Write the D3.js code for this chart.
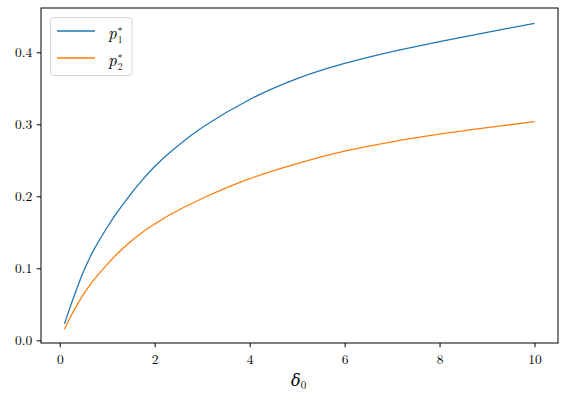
<!DOCTYPE html>
<html>
<head>
<meta charset="utf-8">
<script src="https://cdn.jsdelivr.net/npm/d3@7"></script>
<style>
    body { margin: 0; background: #fff; }
    svg { display: block; }
    text { font-family: "Latin Modern Roman", "CMU Serif", "DejaVu Serif", serif; fill: #000; }
</style>
</head>
<body>
<div id="svg"></div>
<script>
// DATA
const delta = [0.1, 0.25, 0.4, 0.5, 0.7, 1.0, 1.2, 1.5, 1.75, 2.0, 2.35, 3.0, 4.0, 5.0, 6.0, 7.0, 8.0, 9.0, 10.0]
const p1 = [0.0230, 0.052, 0.079, 0.0955, 0.1235, 0.157, 0.177, 0.2035, 0.2235, 0.2415, 0.2625, 0.2955, 0.3345, 0.3635, 0.3845, 0.401, 0.4147, 0.4278, 0.440]
const p2 = [0.0155, 0.0355, 0.053, 0.0637, 0.0825, 0.1055, 0.1195, 0.1375, 0.1505, 0.1615, 0.1755, 0.197, 0.2245, 0.2455, 0.2628, 0.2757, 0.2863, 0.2953, 0.3036]
const xTicks = [0, 2, 4, 6, 8, 10]
const yTicks = [0.0, 0.1, 0.2, 0.3, 0.4]
const seriesNames = ["1", "2"]
const colors = ["#1f77b4", "#ff7f0e"]

let width = 561,
    height = 393,
    margin = {top: 8, right: 3, bottom: 50, left: 41},
    svg = d3.select("#svg").append("svg")
        .attr("width", width)
        .attr("height", height)

//SCALES
let x = d3.scaleLinear().domain([-0.395, 10.495]).range([margin.left, width - margin.right])
let y = d3.scaleLinear().domain([-0.0037, 0.4615]).range([height - margin.bottom, margin.top])

//LINES
let line = d3.line()
    .x(d => x(d[0]))
    .y(d => y(d[1]))
    .curve(d3.curveCatmullRom.alpha(0.5))

let series = [p1, p2].map(vals => delta.map((d, i) => [d, vals[i]]))

svg.append("g")
    .selectAll("path")
    .data(series)
    .enter().append("path")
    .attr("d", line)
    .attr("fill", "none")
    .attr("stroke", (d, i) => colors[i])
    .attr("stroke-width", 1.3)

//AXES
svg.append("g")
    .attr("transform", "translate(0," + (height - margin.bottom) + ")")
    .call(d3.axisBottom(x).tickValues(xTicks).tickFormat(d3.format("d")).tickSize(4.3).tickPadding(7))
svg.append("g")
    .attr("transform", "translate(" + margin.left + ",0)")
    .call(d3.axisLeft(y).tickValues(yTicks).tickFormat(d3.format(".1f")).tickSize(4.3).tickPadding(4.5))
svg.selectAll(".domain").remove()
svg.selectAll(".tick line").attr("stroke", "#000").attr("stroke-width", 1)
svg.selectAll(".tick text").attr("font-family", null).attr("font-size", 13.5).attr("fill", "#000")

//FRAME
svg.append("rect")
    .attr("x", margin.left)
    .attr("y", margin.top)
    .attr("width", width - margin.left - margin.right)
    .attr("height", height - margin.top - margin.bottom)
    .attr("fill", "none")
    .attr("stroke", "#000")
    .attr("stroke-width", 1)

//X LABEL
let xlab = svg.append("text")
    .attr("x", 291)
    .attr("y", 386)
    .attr("font-size", 16)
xlab.append("tspan").attr("font-style", "italic").text("δ")
xlab.append("tspan").attr("font-size", 11).attr("dy", 3).text("0")

//LEGEND
let legend = svg.append("g")
legend.append("rect")
    .attr("x", 50.5)
    .attr("y", 17.5)
    .attr("width", 81.5)
    .attr("height", 58)
    .attr("rx", 3)
    .attr("fill", "#fff")
    .attr("fill-opacity", 0.8)
    .attr("stroke", "#d6d6d6")
let entry = legend.selectAll(".entry")
    .data(seriesNames)
    .enter().append("g")
    .attr("class", "entry")
    .attr("transform", (d, i) => "translate(0," + (31 + i * 27) + ")")
entry.append("line")
    .attr("x1", 57).attr("x2", 95)
    .attr("stroke", (d, i) => colors[i])
    .attr("stroke-width", 1.3)
let label = entry.append("text")
    .attr("x", 108).attr("y", 7.5)
    .attr("font-size", 17)
label.append("tspan").attr("font-style", "italic").text("p")
label.append("tspan").attr("font-size", 9.5).attr("dx", 1).attr("dy", -5).text("*")
label.append("tspan").attr("font-size", 9.5).attr("dx", -4.8).attr("dy", 9.5).text(d => d)
</script>
</body>
</html>
